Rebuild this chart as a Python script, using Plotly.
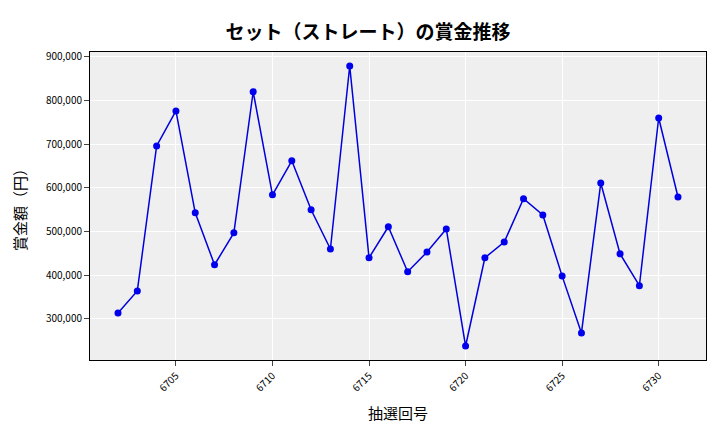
import plotly.graph_objects as go

draws = list(range(6702, 6732))
prizes = [313700, 364000, 696000, 776000, 543000, 424000, 497000, 820000, 584000, 662000,
          550000, 460000, 879000, 440000, 511000, 408000, 453000, 506000, 238000, 440000,
          476000, 575000, 538000, 398000, 268000, 611000, 449000, 376000, 760000, 579000]

font = "Noto Sans CJK JP"
fig = go.Figure()
fig.add_trace(go.Scatter(x=draws, y=prizes, mode="lines+markers",
                         line=dict(color="#0000dd", width=1.5),
                         marker=dict(color="#0000ee", size=7)))
fig.update_layout(
    width=720, height=432,
    margin=dict(l=78, r=22, t=44, b=80),
    paper_bgcolor="white", plot_bgcolor="#efefef",
    font=dict(family=font, color="black"),
    title=dict(text="<b>セット（ストレート）の賞金推移</b>", x=0.5, y=0.96, xanchor="center",
               font=dict(size=19, family=font)),
    showlegend=False,
)
fig.update_xaxes(title=dict(text="抽選回号", font=dict(size=15)), tickvals=[6705, 6710, 6715, 6720, 6725, 6730],
                 tickangle=-45, tickfont=dict(size=10), gridcolor="white",
                 range=[6700.55, 6732.45], showline=True, linecolor="black", mirror=True,
                 ticks="outside", zeroline=False)
fig.update_yaxes(title=dict(text="賞金額（円）", font=dict(size=15)), tickformat=",d",
                 tickvals=[300000, 400000, 500000, 600000, 700000, 800000, 900000],
                 tickfont=dict(size=10), gridcolor="white", range=[206000, 911000],
                 showline=True, linecolor="black", mirror=True, ticks="outside", zeroline=False)
fig.write_html("out.html")
